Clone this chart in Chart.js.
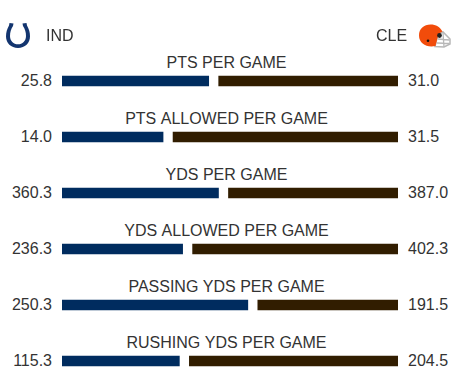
<!DOCTYPE html>
<html>
<head>
<meta charset="utf-8">
<style>
  html, body { margin: 0; padding: 0; background: #fff; width: 458px; height: 388px; overflow: hidden; }
  #wrap { position: relative; width: 458px; height: 388px; overflow: hidden; }
  #myChart { position: absolute; left: 0; top: 0; }
  .team { position: absolute; top: 27px; font: 16px "Liberation Sans", Arial, sans-serif; color: #333; line-height: 18px; }
  .logo { position: absolute; }
</style>
<script src="https://cdn.jsdelivr.net/npm/chart.js@4"></script>
</head>
<body>
<div id="wrap">
  <canvas id="myChart" width="458" height="400"></canvas>
  <svg class="logo" style="left:5px;top:22px" width="26" height="27" viewBox="0 0 26 27">
    <path d="M4.5 1 L8.5 1.5 L8 4 C6 7 5 10 5 14 C5 19 8.5 22.3 13 22.3 C17.5 22.3 21 19 21 14 C21 10 20 7 18 4 L17.5 1.5 L21.5 1 L22 3.5 C24 7 25 10.5 25 14.5 C25 21 20 26 13 26 C6 26 1 21 1 14.5 C1 10.5 2 7 4 3.5 Z" fill="#13356f"/>
  </svg>
  <div class="team" style="left:46px">IND</div>
  <div class="team" style="left:376px">CLE</div>
  <svg class="logo" style="left:419px;top:24px" width="32" height="24" viewBox="0 0 32 24">
    <path d="M19 10 L24 8 L31 15 L31 20 L25 23 L16 22.5 Z" fill="#fff" stroke="#b8b8b8" stroke-width="1.5"/>
    <path d="M19 15 L30.5 16 M18 19 L30.5 19.5 M24 9 L25 23" stroke="#b8b8b8" stroke-width="1.3" fill="none"/>
    <path d="M0 11.5 C0 4.5 5 0.5 11.5 0.5 C17 0.5 21 3 23.5 7.5 L20 9.5 L18.5 14 L16.5 22 C8 24 0 19.5 0 11.5 Z" fill="#f24c0b"/>
    <circle cx="20.5" cy="11.5" r="2.4" fill="#222"/>
    <circle cx="9" cy="16.7" r="1.3" fill="#111"/>
  </svg>
</div>
<script>
const teams = ['IND', 'CLE'];
const categories = ['PTS PER GAME', 'PTS ALLOWED PER GAME', 'YDS PER GAME', 'YDS ALLOWED PER GAME', 'PASSING YDS PER GAME', 'RUSHING YDS PER GAME'];
const homeValues = [25.8, 14.0, 360.3, 236.3, 250.3, 115.3];
const awayValues = [31.0, 31.5, 387.0, 402.3, 191.5, 204.5];

// each row is split by its own total to a whole percent, bars share 326px and 10px is left between them
const gap = 10 / 326 * 100;
const homeShare = homeValues.map((v, i) => Math.round(v / (v + awayValues[i]) * 100));
const awayShare = homeShare.map((v) => 100 - v);

const rowLabels = {
  id: 'rowLabels',
  afterDatasetsDraw(chart) {
    const ctx = chart.ctx;
    const area = chart.chartArea;
    const yScale = chart.scales.y;
    ctx.save();
    ctx.fillStyle = '#333';
    ctx.font = '16px "Liberation Sans", Arial, sans-serif';
    ctx.textBaseline = 'alphabetic';
    categories.forEach((name, i) => {
      const y = yScale.getPixelForValue(i);
      ctx.textAlign = 'center';
      ctx.fillText(name, 226.5, y - 13);
      ctx.textAlign = 'right';
      ctx.fillText(homeValues[i].toFixed(1), area.left - 10, y + 5);
      ctx.textAlign = 'left';
      ctx.fillText(awayValues[i].toFixed(1), area.right + 10, y + 5);
    });
    ctx.restore();
  }
};

const canvas = document.getElementById('myChart');
const ctx = canvas.getContext('2d', { alpha: false });

new Chart(ctx, {
  type: 'bar',
  data: {
    labels: categories,
    datasets: [
      { label: teams[0], data: homeShare, backgroundColor: '#002c5f' },
      { label: 'gap', data: categories.map(() => gap), backgroundColor: 'rgba(0,0,0,0)' },
      { label: teams[1], data: awayShare, backgroundColor: '#311d00' }
    ]
  },
  options: {
    indexAxis: 'y',
    responsive: false,
    animation: false,
    layout: { padding: { left: 62, right: 60, top: 53, bottom: 11 } },
    datasets: { bar: { barThickness: 10 } },
    plugins: { legend: { display: false }, tooltip: { enabled: false } },
    scales: {
      x: { display: false, stacked: true, min: 0, max: 100 + gap },
      y: { display: false, stacked: true }
    }
  },
  plugins: [{
    id: 'whiteBg',
    beforeDraw(chart) {
      chart.ctx.save();
      chart.ctx.fillStyle = '#fff';
      chart.ctx.fillRect(0, 0, chart.width, chart.height);
      chart.ctx.restore();
    }
  }, rowLabels]
});
</script>
</body>
</html>
